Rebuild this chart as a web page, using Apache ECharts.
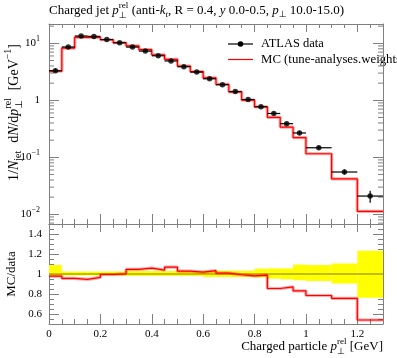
<!DOCTYPE html>
<html><head><meta charset="utf-8">
<script src="https://cdn.jsdelivr.net/npm/echarts@6/dist/echarts.min.js"></script>
<style>html,body{margin:0;padding:0;background:#fff}#c{width:397px;height:358px}</style>
</head><body><div id="c"></div>
<script>
// ---- data ----
const binLo = [0,0.05,0.1,0.15,0.2,0.25,0.3,0.35,0.4,0.45,0.5,0.55,0.6,0.65,0.7,0.75,0.8,0.85,0.9,0.95,1.0,1.1,1.2];
const binHi = [0.05,0.1,0.15,0.2,0.25,0.3,0.35,0.4,0.45,0.5,0.55,0.6,0.65,0.7,0.75,0.8,0.85,0.9,0.95,1.0,1.1,1.2,1.3];
const dataVals = [3.3,8.6,13.4,13.2,11.6,10.2,8.6,7.3,6.05,4.9,3.89,3.13,2.39,1.88,1.42,1.03,0.773,0.587,0.389,0.267,0.147,0.0552,0.0209];
const dataRelLo = [0.98,0.985,0.985,0.985,0.985,0.985,0.98,0.98,0.98,0.98,0.98,0.98,0.97,0.97,0.97,0.97,0.967,0.954,0.947,0.937,0.93,0.905,0.763];
const dataRelHi = [1.09,1.025,1.025,1.025,1.025,1.025,1.03,1.03,1.03,1.03,1.03,1.03,1.033,1.033,1.033,1.033,1.053,1.056,1.056,1.094,1.09,1.105,1.233];
const mcVals = [3.23,8.23,12.69,12.76,11.54,10.22,9.0,7.73,6.29,5.24,4.0,3.19,2.47,1.895,1.409,1.011,0.764,0.502,0.339,0.222,0.1154,0.0418,0.01129];
const xMajorTicks = [0,0.2,0.4,0.6,0.8,1.0,1.2];
const xMinorTicks = [0.05,0.1,0.15,0.25,0.3,0.35,0.45,0.5,0.55,0.65,0.7,0.75,0.85,0.9,0.95,1.05,1.1,1.15,1.25];
const yMainMinor = [0.007,0.008,0.009,0.02,0.03,0.04,0.05,0.06,0.07,0.08,0.09,0.2,0.3,0.4,0.5,0.6,0.7,0.8,0.9,2,3,4,5,6,7,8,9,20];
const yRatioMajor = [0.6,0.8,1,1.2,1.4];
const yRatioMinor = [0.55,0.65,0.7,0.75,0.85,0.9,0.95,1.05,1.1,1.15,1.25,1.3,1.35,1.45];

const FONT = '"Liberation Serif", "DejaVu Serif", serif';
const SYMF = '"DejaVu Sans", sans-serif';
const FRAME = '#808080';
const X_MIN = 0, X_MAX = 1.3;
const Y_MIN = 0.00676, Y_MAX = 21.8;
const R_MIN = 0.5, R_MAX = 1.5;

const chart = echarts.init(document.getElementById('c'), null, {renderer: 'canvas'});

// ---- small math-text builder (measured with canvas) ----
const mctx = document.createElement('canvas').getContext('2d');
function mw(t, size, italic, fam) {
  mctx.font = (italic ? 'italic ' : '') + size + 'px ' + fam;
  return mctx.measureText(t).width;
}
function mathText(x, y, parts, size, align, rot, fill) {
  const kids = [];
  let cur = 0;
  const ss = size * 0.7, up = -0.38 * size, dn = 0.3 * size;
  function put(t, sz, it, fam, dy) {
    kids.push({type: 'text', x: cur, y: dy, silent: true,
      style: {text: t, fontSize: sz, fontStyle: it ? 'italic' : 'normal', fontFamily: fam, fill: fill || '#000', align: 'left', verticalAlign: 'middle'}});
    return mw(t, sz, it, fam);
  }
  parts.forEach(p => {
    const k = p[0];
    if (k === 'n') cur += put(p[1], size, false, FONT, 0);
    else if (k === 'it') cur += put(p[1], size, true, FONT, 0);
    else if (k === 'sup') cur += put(p[1], ss, false, FONT, up);
    else if (k === 'sub') cur += put(p[1], ss, !!p[2], FONT, dn);
    else if (k === 'subp') cur += put(p[1], ss, false, SYMF, dn);
    else if (k === 'gap') cur += p[1];
    else if (k === 'stack') {
      const s0 = cur;
      const w1 = put(p[1], ss, false, FONT, up);
      cur = s0;
      const w2 = put(p[2], ss, false, SYMF, dn + 1);
      cur = s0 + Math.max(w1, w2);
    }
  });
  const shift = align === 'right' ? -cur : (align === 'center' ? -cur / 2 : 0);
  kids.forEach(c => { c.x += shift; });
  return {type: 'group', x: x, y: y, rotation: rot || 0, silent: true, children: kids};
}

function xAx(grid, pos, vals, len, lineShow, labels) {
  return {
    type: 'value', gridIndex: grid, position: pos, min: X_MIN, max: X_MAX,
    axisLine: {show: lineShow, onZero: false, lineStyle: {color: FRAME, width: 1}},
    axisTick: {show: true, inside: true, length: len, customValues: vals, lineStyle: {color: FRAME, width: 1}},
    axisLabel: labels ? {show: true, customValues: xMajorTicks, margin: 5, fontSize: 11, fontFamily: FONT, color: '#000'} : {show: false},
    splitLine: {show: false}
  };
}
function yRat(pos, vals, len, lineShow, labels) {
  return {
    type: 'value', gridIndex: 1, position: pos, min: R_MIN, max: R_MAX,
    axisLine: {show: lineShow, onZero: false, lineStyle: {color: FRAME, width: 1}},
    axisTick: {show: true, inside: true, length: len, customValues: vals, lineStyle: {color: FRAME, width: 1}},
    axisLabel: labels ? {show: true, customValues: yRatioMajor, margin: 7, fontSize: 11, fontFamily: FONT, color: '#000'} : {show: false},
    splitLine: {show: false}
  };
}
function yLog(pos, labels) {
  return {
    type: 'log', logBase: 10, gridIndex: 0, position: pos, min: Y_MIN, max: Y_MAX,
    axisLine: {show: true, onZero: false, lineStyle: {color: FRAME, width: 1}},
    axisTick: {show: true, inside: true, length: 10, lineStyle: {color: FRAME, width: 1}},
    axisLabel: labels ? {
      show: true, interval: 0, showMinLabel: false, showMaxLabel: false, margin: 9,
      fontSize: 11, fontFamily: FONT, color: '#000', lineHeight: 16,
      formatter: function (v) {
        const e = Math.round(Math.log10(v));
        if (e === 0) return '1';
        return '10{s|' + (e < 0 ? '\u2212' : '') + Math.abs(e) + '}';
      },
      rich: {s: {fontSize: 8, fontFamily: FONT, lineHeight: 8, verticalAlign: 'top', color: '#000'}}
    } : {show: false},
    splitLine: {show: false}
  };
}

const centers = binLo.map((l, i) => (l + binHi[i]) / 2);
const mcStep = binLo.map((l, i) => [l, mcVals[i]]).concat([[X_MAX, mcVals[mcVals.length - 1]]]);
const ratioVals = mcVals.map((m, i) => m / dataVals[i]);
const ratioStep = binLo.map((l, i) => [l, ratioVals[i]]).concat([[X_MAX, ratioVals[ratioVals.length - 1]]]);

const titleParts = [['n', 'Charged jet '], ['it', 'p'], ['stack', 'rel', '\u22a5'], ['n', ' (anti-'], ['it', 'k'], ['sub', 't', true],
  ['n', ', R = 0.4, '], ['it', 'y'], ['n', ' 0.0-0.5, '], ['it', 'p'], ['subp', '\u22a5'], ['n', ' 10.0-15.0)']];
const yTitleParts = [['n', '1/'], ['it', 'N'], ['sub', 'jet', false], ['gap', 8], ['n', 'd'], ['it', 'N'], ['n', '/d'], ['it', 'p'],
  ['stack', 'rel', '\u22a5'], ['gap', 8], ['n', '[GeV'], ['sup', '\u22121'], ['n', ']']];
const xTitleParts = [['n', 'Charged particle '], ['it', 'p'], ['stack', 'rel', '\u22a5'], ['n', ' [GeV]']];

const option = {
  animation: false,
  backgroundColor: '#fff',
  grid: [
    {left: 49, right: 14, top: 24, height: 200},
    {left: 49, right: 14, top: 224, height: 100}
  ],
  xAxis: [
    xAx(0, 'bottom', xMajorTicks, 10, true, false),
    xAx(0, 'bottom', xMinorTicks, 5, false, false),
    xAx(0, 'top', xMajorTicks, 8, true, false),
    xAx(0, 'top', xMinorTicks, 4, false, false),
    xAx(1, 'bottom', xMajorTicks, 10, true, true),
    xAx(1, 'bottom', xMinorTicks, 5, false, false),
    xAx(1, 'top', xMajorTicks, 8, true, false),
    xAx(1, 'top', xMinorTicks, 4, false, false)
  ],
  yAxis: [
    yLog('left', true),
    yLog('right', false),
    yRat('left', yRatioMajor, 10, true, true),
    yRat('left', yRatioMinor, 5, false, false),
    yRat('right', yRatioMajor, 10, true, false),
    yRat('right', yRatioMinor, 5, false, false)
  ],
  graphic: [
    mathText(49, 11, titleParts, 13, 'left', 0),
    mathText(14, 112.5, yTitleParts, 14, 'center', Math.PI / 2),
    mathText(12, 274, [['n', 'MC/data']], 13, 'center', Math.PI / 2),
    mathText(383, 347, xTitleParts, 13, 'right', 0),
    {type: 'line', silent: true, shape: {x1: 228, y1: 44, x2: 253, y2: 44}, style: {stroke: '#000', lineWidth: 1.2}},
    {type: 'circle', silent: true, shape: {cx: 240.5, cy: 44, r: 2.8}, style: {fill: '#000'}},
    mathText(261, 44, [['n', 'ATLAS data']], 12.5, 'left', 0),
    {type: 'line', silent: true, shape: {x1: 228, y1: 59.5, x2: 253, y2: 59.5}, style: {stroke: '#ff0000', lineWidth: 1.2}},
    mathText(261, 59.5, [['n', 'MC (tune-analyses.weights)']], 12.8, 'left', 0)
  ],
  series: [
    {
      type: 'custom', xAxisIndex: 0, yAxisIndex: 0, silent: true, clip: false, z: 1,
      data: yMainMinor.map(v => [X_MIN, v]),
      renderItem: function (params, api) {
        const v = api.value(1);
        const l = api.coord([X_MIN, v]);
        const r = api.coord([X_MAX, v]);
        const st = {stroke: FRAME, lineWidth: 1};
        return {type: 'group', children: [
          {type: 'line', shape: {x1: l[0], y1: l[1], x2: l[0] + 5, y2: l[1]}, style: st},
          {type: 'line', shape: {x1: r[0], y1: r[1], x2: r[0] - 5, y2: r[1]}, style: st}
        ]};
      }
    },
    {type: 'line', xAxisIndex: 0, yAxisIndex: 0, step: 'end', data: mcStep, showSymbol: false, silent: true,
      lineStyle: {color: 'rgba(255,0,0,0.35)', width: 3.2}, z: 2},
    {type: 'line', xAxisIndex: 0, yAxisIndex: 0, step: 'end', data: mcStep, showSymbol: false, silent: true,
      lineStyle: {color: '#ff0000', width: 1.2}, z: 3},
    {
      type: 'custom', xAxisIndex: 0, yAxisIndex: 0, silent: true, z: 4,
      data: binLo.map((l, i) => [l, binHi[i], dataVals[i], dataVals[i] * dataRelLo[i], dataVals[i] * dataRelHi[i]]),
      renderItem: function (params, api) {
        const x0 = api.value(0), x1 = api.value(1), y = api.value(2);
        const a = api.coord([x0, y]), b = api.coord([x1, y]);
        const xc = (x0 + x1) / 2;
        const c = api.coord([xc, api.value(3)]), d = api.coord([xc, api.value(4)]);
        const st = {stroke: '#000', lineWidth: 1.2};
        return {type: 'group', children: [
          {type: 'line', shape: {x1: a[0], y1: a[1], x2: b[0], y2: b[1]}, style: st},
          {type: 'line', shape: {x1: c[0], y1: c[1], x2: d[0], y2: d[1]}, style: st}
        ]};
      }
    },
    {type: 'scatter', xAxisIndex: 0, yAxisIndex: 0, silent: true, z: 5, symbol: 'circle', symbolSize: 5.5,
      itemStyle: {color: '#000'}, data: centers.map((c, i) => [c, dataVals[i]])},
    {
      type: 'custom', xAxisIndex: 4, yAxisIndex: 2, silent: true, z: 1,
      data: binLo.map((l, i) => [l, binHi[i], dataRelLo[i], dataRelHi[i]]),
      renderItem: function (params, api) {
        const a = api.coord([api.value(0), api.value(3)]);
        const b = api.coord([api.value(1), api.value(2)]);
        return {type: 'rect', shape: {x: a[0], y: a[1], width: b[0] - a[0], height: b[1] - a[1]}, style: {fill: '#ffff00'}};
      }
    },
    {type: 'line', xAxisIndex: 4, yAxisIndex: 2, data: [[X_MIN, 1], [X_MAX, 1]], showSymbol: false, silent: true,
      lineStyle: {color: 'rgba(0,0,0,0.5)', width: 1}, z: 2},
    {type: 'line', xAxisIndex: 4, yAxisIndex: 2, step: 'end', data: ratioStep, showSymbol: false, silent: true,
      lineStyle: {color: 'rgba(255,0,0,0.35)', width: 3.2}, z: 3},
    {type: 'line', xAxisIndex: 4, yAxisIndex: 2, step: 'end', data: ratioStep, showSymbol: false, silent: true,
      lineStyle: {color: '#ff0000', width: 1.2}, z: 4}
  ]
};
chart.setOption(option);
</script>
</body></html>
